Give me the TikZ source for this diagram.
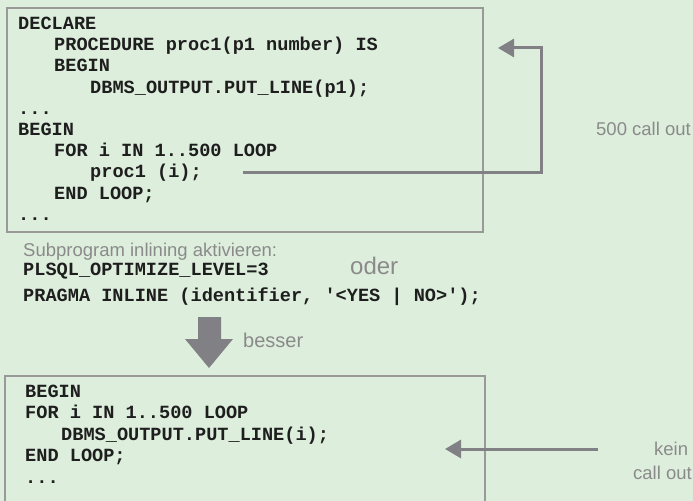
\documentclass[tikz,border=0pt]{standalone}
\usepackage{fontspec}
\setmainfont{Liberation Sans}
\newfontfamily\codefont{Liberation Mono}
\usetikzlibrary{arrows.meta}
\definecolor{bg}{HTML}{DDEEDC}
\definecolor{boxline}{HTML}{999999}
\definecolor{arrowgray}{HTML}{808085}
\definecolor{labelgray}{HTML}{8A8A8A}
\definecolor{codecol}{HTML}{1E1E1E}
\tikzset{
  code/.style={anchor=base west, inner sep=0pt, text=codecol, font=\codefont\bfseries\fontsize{18.6bp}{21bp}\selectfont},
  label/.style={anchor=base west, inner sep=0pt, text=labelgray, font=\fontsize{18.5bp}{21bp}\selectfont},
  codebox/.style={draw=boxline, line width=1.3bp},
  callarrow/.style={draw=arrowgray, line width=3bp, -{Triangle[length=16bp,width=18bp]}},
}
\begin{document}
\begin{tikzpicture}[x=1bp,y=-1bp]
\fill[bg] (0,0) rectangle (693,501);
\useasboundingbox (0,0) rectangle (693,501);
% boxes
\draw[codebox] (7,8) rectangle (483,232);
\draw[codebox] (5,376) rectangle (485,520);
% top code
\node[code] (t1) at (18,29.5) {DECLARE};
\node[code] (t2) at (54,50.7) {PROCEDURE proc1(p1 number) IS};
\node[code] (t3) at (54,71.9) {BEGIN};
\node[code] (t4) at (90,93.1) {DBMS\_OUTPUT.PUT\_LINE(p1);};
\node[code] (t5) at (18,114.3) {...};
\node[code] (t6) at (18,135.5) {BEGIN};
\node[code] (t7) at (54,156.7) {FOR i IN 1..500 LOOP};
\node[code] (t8) at (90,177.9) {proc1 (i);};
\node[code] (t9) at (54,199.1) {END LOOP;};
\node[code] (t10) at (18,220.3) {...};
% middle
\node[label] (sub) at (23,257) {Subprogram inlining aktivieren:};
\node[code] (plsql) at (23,275.5) {PLSQL\_OPTIMIZE\_LEVEL=3};
\node[label, font=\fontsize{24bp}{26bp}\selectfont] (oder) at (350,275) {oder};
\node[code] (pragma) at (23,301.5) {PRAGMA INLINE (identifier, '<YES | NO>');};
% big arrow
\fill[arrowgray] (198,317) -- (221,317) -- (221,339) -- (233,339) -- (209,368) -- (185,339) -- (198,339) -- cycle;
\node[label, font=\fontsize{20bp}{22bp}\selectfont] (besser) at (243,347) {besser};
% bottom code
\node[code] (b1) at (25,397.3) {BEGIN};
\node[code] (b2) at (25,418.8) {FOR i IN 1..500 LOOP};
\node[code] (b3) at (61,440.3) {DBMS\_OUTPUT.PUT\_LINE(i);};
\node[code] (b4) at (25,461.8) {END LOOP;};
\node[code] (b5) at (25,483.3) {...};
% right labels
\node[label] (calls) at (596,136) {500 call out};
\node[label] (kein) at (654,455) {kein};
\node[label] (nocall) at (633,479) {call out};
% arrows
\coordinate (a1s) at (243,173);
\coordinate (a1c1) at (541,173);
\coordinate (a1c2) at (541,48);
\coordinate (a1e) at (498,48);
\draw[callarrow] (a1s) -- (a1c1) -- (a1c2) -- (a1e);
\coordinate (a2s) at (598,449);
\coordinate (a2e) at (445,449);
\draw[callarrow] (a2s) -- (a2e);
\end{tikzpicture}
\end{document}
